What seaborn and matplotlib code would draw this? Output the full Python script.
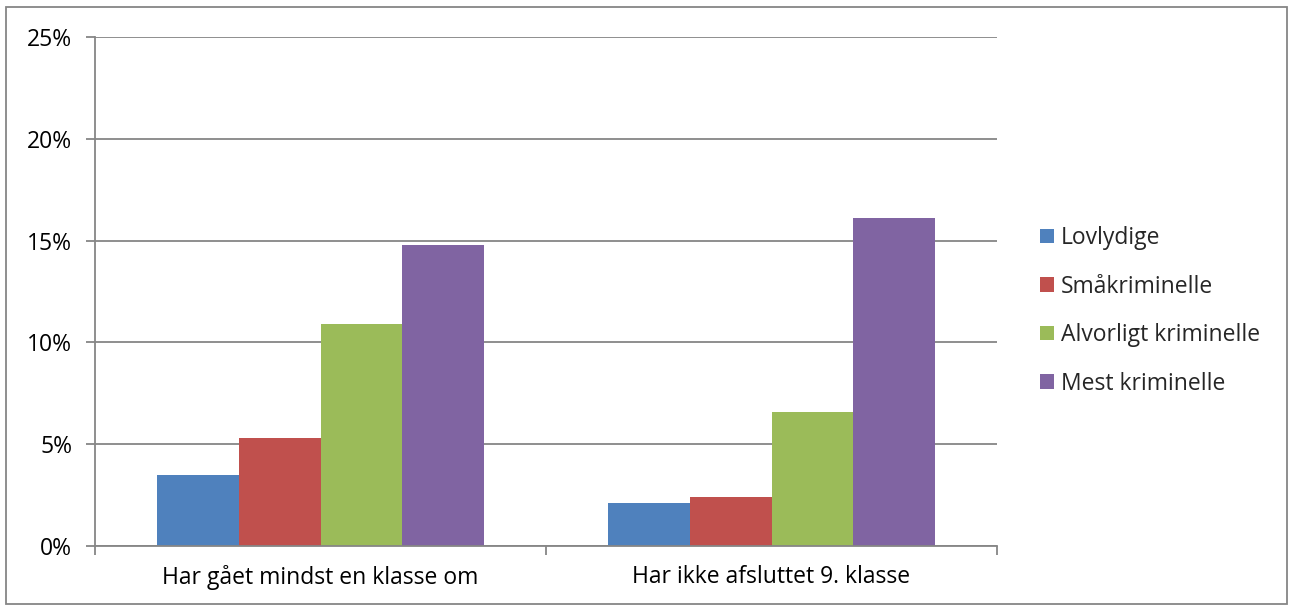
import matplotlib
matplotlib.use("Agg")
import matplotlib.pyplot as plt
import seaborn as sns
import pandas as pd
from matplotlib.patches import Rectangle
from matplotlib.ticker import FuncFormatter, FixedLocator

categories = ["Har gået mindst en klasse om", "Har ikke afsluttet 9. klasse"]
groups = ["Lovlydige", "Småkriminelle", "Alvorligt kriminelle", "Mest kriminelle"]
lovlydige = [3.5, 2.1]
smaakriminelle = [5.3, 2.4]
alvorligt = [10.9, 6.6]
mest = [14.8, 16.1]
colors = ["#4F81BD", "#C0504D", "#9BBB59", "#8064A2"]
yticks = [0, 5, 10, 15, 20, 25]

rows = []
for g, vals in zip(groups, [lovlydige, smaakriminelle, alvorligt, mest]):
    for c, v in zip(categories, vals):
        rows.append({"cat": c, "grp": g, "val": v})
df = pd.DataFrame(rows)

sns.set_theme(style="white")
plt.rcParams["font.family"] = ["Open Sans", "DejaVu Sans"]

fs = 16.5
fig = plt.figure(figsize=(12.93, 6.08), dpi=100)
ax = fig.add_axes([95/1293, 1-546/608, (997-95)/1293, (546-37)/608])

sns.barplot(data=df, x="cat", y="val", hue="grp", hue_order=groups, order=categories,
            palette=colors, ax=ax, width=0.727, saturation=1, edgecolor="none", linewidth=0,
            legend=True)

gc = "#868686"
lw = 1.3
ax.set_ylim(0, 25)
ax.set_xlim(-0.5, 1.5)
ax.yaxis.set_major_locator(FixedLocator(yticks))
ax.yaxis.set_major_formatter(FuncFormatter(lambda v, p: f"{int(v)}%"))
ax.grid(axis="y", color=gc, linewidth=lw)
ax.set_axisbelow(True)
ax.set_xlabel("")
ax.set_ylabel("")
for s in ["top", "right"]:
    ax.spines[s].set_visible(False)
for s in ["left", "bottom"]:
    ax.spines[s].set_color(gc)
    ax.spines[s].set_linewidth(lw)
ax.tick_params(axis="y", left=True, length=6.5, width=lw, color=gc, direction="out", pad=10,
               labelsize=fs, labelcolor="black")
ax.set_xticks([-0.5, 0.5, 1.5], minor=True)
ax.tick_params(axis="x", which="minor", bottom=True, length=6.5, width=lw, color=gc, direction="out")
ax.tick_params(axis="x", which="major", bottom=False, length=0, pad=14, labelsize=fs, labelcolor="black")

handles, labels = ax.get_legend_handles_labels()
ax.legend(handles, labels, loc="center left", bbox_to_anchor=(1040/1293, 1-311/608),
          bbox_transform=fig.transFigure, frameon=False, fontsize=fs,
          handlelength=0.6, handleheight=0.6, handletextpad=0.3, labelspacing=1.07,
          borderaxespad=0, borderpad=0)

fig.patches.append(Rectangle((6/1293, 1-604/608), (1287-6)/1293, (604-7)/608,
                             transform=fig.transFigure, fill=False, edgecolor=gc, linewidth=lw))

fig.savefig("out.png", dpi=100)
